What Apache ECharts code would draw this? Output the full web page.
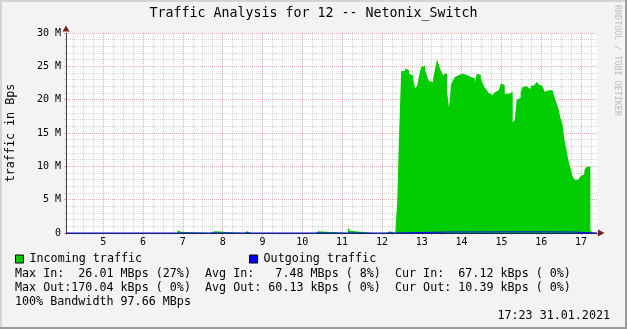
<!DOCTYPE html>
<html><head><meta charset="utf-8">
<script src="https://cdn.jsdelivr.net/npm/echarts@6/dist/echarts.min.js"></script>
<style>
html,body{margin:0;padding:0;background:#f3f3f3;}
#wrap{position:relative;width:627px;height:329px;overflow:hidden;}
#chart{position:absolute;left:0;top:0;width:627px;height:329px;}
.b{position:absolute;}
</style></head><body>
<div id="wrap"><div id="chart"></div>
<div class="b" style="left:0;top:0;width:627px;height:2px;background:#d4d4d4"></div>
<div class="b" style="left:0;top:0;width:2px;height:329px;background:#d4d4d4"></div>
<div class="b" style="left:0;top:327px;width:627px;height:2px;background:#9a9a9a"></div>
<div class="b" style="left:625px;top:0;width:2px;height:329px;background:#9a9a9a"></div>
</div>
<script>
// ---- texts ----
const TITLE = 'Traffic Analysis for 12 -- Netonix_Switch';
const Y_TITLE = 'traffic in Bps';
const SERIES_NAMES = ['Incoming traffic', 'Outgoing traffic'];
const STAT_LINES = [
  'Max In:  26.01 MBps (27%)  Avg In:   7.48 MBps ( 8%)  Cur In:  67.12 kBps ( 0%)',
  'Max Out:170.04 kBps ( 0%)  Avg Out: 60.13 kBps ( 0%)  Cur Out: 10.39 kBps ( 0%)',
  '100% Bandwidth 97.66 MBps'
];
const STAMP = '17:23 31.01.2021';
const WATERMARK = 'RRDTOOL / TOBI OETIKER';

// ---- axes ----
const X_START = '04:04';
const X_END = '17:24';
const X_TICK_HOURS = [5, 6, 7, 8, 9, 10, 11, 12, 13, 14, 15, 16, 17];
const X_TICK_LABELS = ['5', '6', '7', '8', '9', '10', '11', '12', '13', '14', '15', '16', '17'];
const Y_TICK_VALUES = [0, 5, 10, 15, 20, 25, 30];
const Y_TICK_LABELS = ['0', '5 M', '10 M', '15 M', '20 M', '25 M', '30 M'];

// ---- data (MBps) ----
// small blips before the busy period: [time, value], value holds until next entry
const inBlips = [
  ['04:04', 0], ['06:52', 0.4], ['06:54', 0.2], ['06:57', 0],
  ['07:41', 0.25], ['07:48', 0],
  ['08:32', 0.25], ['08:37', 0],
  ['08:43', 0.25], ['08:46', 0],
  ['10:20', 0.25], ['10:24', 0],
  ['11:09', 0.85], ['11:12', 0.3], ['11:16', 0],
  ['11:47', 0.15], ['11:49', 0],
  ['12:07', 0.25], ['12:12', 0]
];
// busy period, one reading every 3 minutes starting 12:20
const busyStart = '12:20';
const busyStepMin = 3;
const busyIn = [
  0.25, 4.5, 15.3, 24.3, 24.3, 24.7, 24.4, 23.9, 23.6, 23.1,
  21.7, 22.1, 23.6, 24.9, 25.1, 24.4, 23.5, 22.8, 22.6, 23.1,
  24.6, 26.01, 25.1, 24.3, 23.7, 24.0, 21.3, 18.8, 22.2, 22.9,
  23.4, 23.7, 23.8, 23.9, 23.7, 23.7, 23.5, 23.4, 23.4, 23.2,
  22.5, 23.9, 23.7, 23.2, 22.4, 21.8, 21.4, 21.0, 20.7, 20.5,
  21.1, 21.4, 21.7, 22.4, 22.2, 20.9, 20.9, 21.0, 21.2, 16.6,
  17.0, 20.0, 20.3, 21.1, 21.9, 22.0, 21.7, 21.6, 22.0, 22.2,
  22.5, 22.7, 22.3, 22.0, 22.1, 21.2, 21.4, 21.4, 21.4, 21.1,
  20.4, 19.5, 18.6, 17.25, 16.3, 13.9, 12.5, 10.8, 9.8, 8.6,
  8.0, 8.0, 8.25, 8.5, 8.8, 9.4, 9.9, 10.0, 0.4
];
const inTail = [['17:17', 0.067], ['17:24', 0.067]];
const outPoints = [
  ['04:04', 0.0], ['12:21', 0.15], ['13:40', 0.16], ['14:50', 0.17],
  ['15:50', 0.15], ['16:47', 0.0], ['17:24', 0.0]
];

// ---- build ----
function toH(s) { const p = s.split(':').map(Number); return p[0] + p[1] / 60; }
const inData = inBlips.map(d => [toH(d[0]), d[1]]);
const bs = toH(busyStart);
busyIn.forEach((v, k) => inData.push([bs + k * busyStepMin / 60, v]));
inTail.forEach(d => inData.push([toH(d[0]), d[1]]));
const outData = outPoints.map(d => [toH(d[0]), d[1]]);

const MONO = '"DejaVu Sans Mono", monospace';
const MAJOR = 'rgba(215,70,70,0.45)';
const MINOR = 'rgba(120,120,120,0.3)';
const GRID = { left: 66, right: 30, top: 33, bottom: 96 };
const W = 627, H = 329;
const ARROW = '#7f1f1f';

const chart = echarts.init(document.getElementById('chart'), null, { renderer: 'canvas' });

const graphics = [
  { type: 'text', x: 11, y: 133, rotation: Math.PI / 2,
    style: { text: Y_TITLE, font: '11.7px ' + MONO, fill: '#000', align: 'center', verticalAlign: 'middle' } },
  { type: 'text', x: 617, y: 5, rotation: -Math.PI / 2,
    style: { text: WATERMARK, font: '8.4px ' + MONO, fill: '#bcbcbc', align: 'left', verticalAlign: 'middle' } },
  { type: 'text', x: 610, y: 316,
    style: { text: STAMP, font: '11.7px ' + MONO, fill: '#000', align: 'right', verticalAlign: 'middle' } },
  // arrows at end of axes
  { type: 'polygon', z: 10, shape: { points: [[GRID.left - 3.5, GRID.top - 1.5], [GRID.left + 3.5, GRID.top - 1.5], [GRID.left, GRID.top - 7.5]] },
    style: { fill: ARROW } },
  { type: 'polygon', z: 10, shape: { points: [[W - GRID.right + 1, H - GRID.bottom - 3.5], [W - GRID.right + 1, H - GRID.bottom + 3.5], [W - GRID.right + 7.5, H - GRID.bottom]] },
    style: { fill: ARROW } }
];
STAT_LINES.forEach((t, i) => graphics.push({
  type: 'text', x: 15, y: 274 + i * 14,
  style: { text: t, font: '11.7px ' + MONO, fill: '#000', align: 'left', verticalAlign: 'middle' }
}));

const option = {
  animation: false,
  backgroundColor: '#f3f3f3',
  title: { text: TITLE, left: 'center', top: 7, padding: 0,
    textStyle: { fontFamily: MONO, fontSize: 13.3, fontWeight: 'normal', color: '#000' } },
  grid: Object.assign({ show: true, backgroundColor: '#ffffff', borderWidth: 0 }, GRID),
  legend: {
    left: 15, top: 253, padding: 0, itemWidth: 8, itemHeight: 8, itemGap: 107,
    icon: 'rect', selectedMode: false,
    itemStyle: { borderColor: '#000', borderWidth: 1 },
    textStyle: { fontFamily: MONO, fontSize: 11.7, color: '#000', padding: [0, 0, 0, 1] },
    data: SERIES_NAMES
  },
  xAxis: [{
    type: 'value', min: toH(X_START), max: toH(X_END),
    minInterval: 1, maxInterval: 1, splitNumber: 13,
    axisLine: { show: false },
    axisTick: { show: true, length: 2, lineStyle: { color: MAJOR } },
    minorTick: { show: true, splitNumber: 4, length: 2, lineStyle: { color: MINOR } },
    axisLabel: {
      showMinLabel: false, showMaxLabel: false, margin: 4,
      fontFamily: MONO, fontSize: 10, color: '#000',
      formatter: v => { const i = X_TICK_HOURS.findIndex(h => Math.abs(h - v) < 1e-6); return i >= 0 ? X_TICK_LABELS[i] : ''; }
    },
    splitLine: { show: true, showMinLine: false, showMaxLine: false, lineStyle: { color: MAJOR, type: [1, 1] } },
    minorSplitLine: { show: true, lineStyle: { color: MINOR, type: [1, 1] } }
  }, {
    // baseline axis line drawn above the series
    type: 'value', min: toH(X_START), max: toH(X_END), position: 'bottom', z: 5,
    axisLine: { show: true, onZero: false, lineStyle: { color: '#22226a' } },
    axisTick: { show: false }, axisLabel: { show: false }, splitLine: { show: false }
  }],
  yAxis: {
    type: 'value', min: 0, max: 30, interval: 5,
    axisLine: { show: true, lineStyle: { color: '#404040' } },
    axisTick: { show: true, length: 2, lineStyle: { color: MAJOR } },
    minorTick: { show: true, splitNumber: 5, length: 2, lineStyle: { color: MINOR } },
    axisLabel: {
      margin: 5, fontFamily: MONO, fontSize: 10, color: '#000',
      formatter: v => { const i = Y_TICK_VALUES.indexOf(v); return i >= 0 ? Y_TICK_LABELS[i] : ''; }
    },
    splitLine: { show: true, showMinLine: false, lineStyle: { color: MAJOR, type: [1, 1] } },
    minorSplitLine: { show: true, lineStyle: { color: MINOR, type: [1, 1] } }
  },
  series: [
    { name: SERIES_NAMES[0], type: 'line', step: 'end', data: inData, symbol: 'none',
      lineStyle: { width: 0, color: '#00cc00' }, itemStyle: { color: '#00cc00' },
      areaStyle: { color: '#00cc00', opacity: 1 }, z: 2 },
    { name: SERIES_NAMES[1], type: 'line', step: 'end', data: outData, symbol: 'none',
      lineStyle: { width: 1, color: '#0000ff' }, itemStyle: { color: '#0000ff' }, z: 3 }
  ],
  graphic: graphics
};
chart.setOption(option);
</script>
</body></html>
